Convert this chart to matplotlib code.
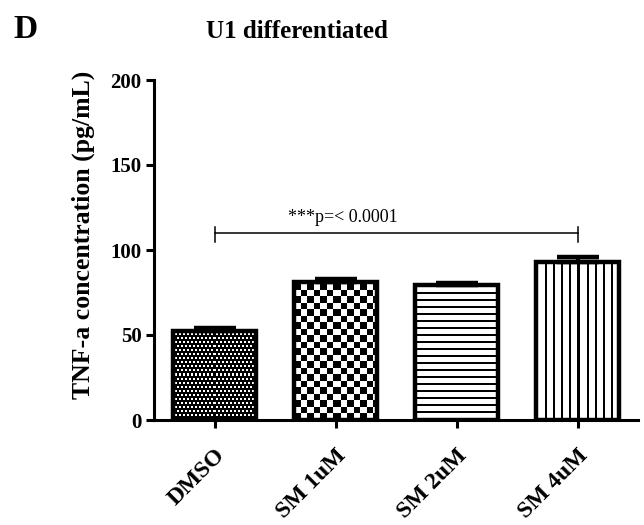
import numpy as np
import matplotlib
matplotlib.use("Agg")
import matplotlib.pyplot as plt

# data (TNF-a, pg/mL)
groups = ['DMSO', 'SM 1uM', 'SM 2uM', 'SM 4uM']
means = [52.5, 81.0, 79.2, 93.0]
sems = [1.8, 1.8, 1.6, 3.0]
sig_text = '***p=< 0.0001'
sig_pair = [0, 3]

# fill texture per bar: (kind, period in px, line/dot size in px)
textures = [('dots', 4, 2), ('checker', 6.5, 0), ('hlines', 7, 2), ('vlines', 8.2, 2)]

plt.rcParams['font.family'] = ['Liberation Serif', 'DejaVu Serif']
plt.rcParams['font.weight'] = 'bold'

fig = plt.figure(figsize=(6.44, 5.25), dpi=100)
ax = fig.add_axes([154/644, 1-420/525, (638-154)/644, (420-80)/525])

x = np.arange(len(groups))
XLIM = (-0.5, len(groups) - 0.5)
YLIM = (0, 200)
ax.set_xlim(XLIM)
ax.set_ylim(YLIM)

bars = ax.bar(x, means, width=0.68, facecolor='none', edgecolor='black',
              linewidth=3.2, zorder=3)


def texture(ax, bar, kind, period, size):
    x0, y0 = bar.get_x(), bar.get_y()
    w, h = bar.get_width(), bar.get_height()
    (px0, py0), (px1, py1) = ax.transData.transform([(x0, y0), (x0 + w, y0 + h)])
    nx, ny = int(round(px1 - px0)), int(round(py1 - py0))
    jj, ii = np.meshgrid(np.arange(nx), np.arange(ny))
    if kind == 'checker':
        img = (np.floor(ii / period) + np.floor(jj / period)) % 2
    elif kind == 'dots':
        # small white squares on black, staggered row to row
        shift = (ii // period % 2) * size
        img = (((ii % period) < size) & (((jj + shift) % period) < size)).astype(float)
    elif kind == 'hlines':
        img = ((ii % period) >= size).astype(float)
    else:
        img = ((jj % period) >= size).astype(float)
    im = ax.imshow(img, cmap='gray', vmin=0, vmax=1, extent=(x0, x0 + w, y0, y0 + h),
                   origin='lower', interpolation='nearest', aspect='auto', zorder=2)
    im.set_clip_path(bar)


for b, (kind, period, size) in zip(bars, textures):
    texture(ax, b, kind, period, size)

ax.set_xlim(XLIM)
ax.set_ylim(YLIM)

ax.errorbar(x, means, yerr=[np.zeros(len(means)), sems], fmt='none', ecolor='black',
            elinewidth=3, capsize=15, capthick=3.2, zorder=4)

# significance bracket
by = 110
ax.plot([sig_pair[0], sig_pair[1]], [by, by], color='black', lw=1.1, zorder=4)
for xi in sig_pair:
    ax.plot([xi, xi], [by - 5.5, by + 3.5], color='black', lw=1.1, zorder=4)
ax.text(0.61, 116.5, sig_text, fontsize=13, fontweight='normal', ha='left', va='baseline')

ax.spines['top'].set_visible(False)
ax.spines['right'].set_visible(False)
ax.spines['left'].set_linewidth(2.2)
ax.spines['bottom'].set_linewidth(2.2)
ax.spines['left'].set_bounds(0, 200)

ax.set_yticks([0, 50, 100, 150, 200])
ax.set_xticks(x)
ax.set_xticklabels(groups, rotation=45, ha='right', rotation_mode='anchor',
                   fontsize=17, fontweight='bold')
ax.tick_params(axis='y', labelsize=15, width=2.2, length=6, pad=3)
ax.tick_params(axis='x', width=2.2, length=6, pad=12)
for lab in ax.get_yticklabels():
    lab.set_fontweight('bold')

ax.set_ylabel('TNF-a concentration (pg/mL)', fontsize=18.5, fontweight='bold')
ax.yaxis.set_label_coords(-0.122, 0.544)

fig.text(13/644, 1-38/525, 'D', fontsize=24, fontweight='bold', ha='left', va='baseline')
fig.text(297/644, 1-38/525, 'U1 differentiated', fontsize=18, fontweight='bold',
         ha='center', va='baseline')

fig.savefig('out.png', dpi=100)
